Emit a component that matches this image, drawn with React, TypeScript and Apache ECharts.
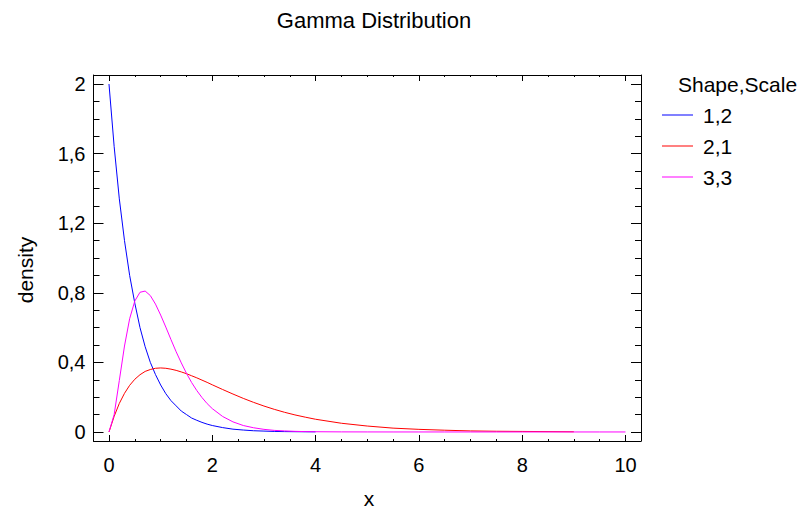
import React, { useEffect, useRef } from "react";
import * as echarts from "echarts";

const FONT = "'Liberation Sans', Arial, Helvetica, sans-serif";

const chartTitle = "Gamma Distribution";
const legendTitle = "Shape,Scale";
const seriesNames = ["1,2", "2,1", "3,3"];
const seriesColors = ["#0000ff", "#ff0000", "#ff00ff"];

// x positions at which the curves were read
const xs = [
  0, 0.1, 0.2, 0.3, 0.4, 0.5, 0.6, 0.7, 0.8, 0.9, 1.0, 1.1, 1.2, 1.3, 1.4, 1.5, 1.6, 1.7, 1.8, 1.9, 2.0,
  2.2, 2.4, 2.6, 2.8, 3.0, 3.2, 3.4, 3.6, 3.8, 4.0,
  4.5, 5, 5.5, 6, 6.5, 7, 7.5, 8, 8.5, 9, 9.5, 10,
];

const blueDensity = [
  2.0, 1.64, 1.34, 1.1, 0.9, 0.74, 0.6, 0.49, 0.4, 0.33, 0.27, 0.22, 0.18, 0.15, 0.12, 0.1, 0.08, 0.067, 0.055, 0.045, 0.037,
  0.025, 0.016, 0.011, 0.007, 0.005, 0.003, 0.002, 0.0015, 0.001, 0.0007,
];

const redDensity = [
  0, 0.09, 0.164, 0.222, 0.268, 0.303, 0.329, 0.348, 0.359, 0.366, 0.368, 0.366, 0.361, 0.354, 0.345, 0.335, 0.323, 0.311, 0.298, 0.285, 0.271,
  0.244, 0.218, 0.193, 0.17, 0.149, 0.13, 0.113, 0.098, 0.085, 0.073,
  0.05, 0.034, 0.022, 0.015, 0.01, 0.006, 0.004, 0.003, 0.002, 0.001,
];

const magentaDensity = [
  0, 0.1, 0.296, 0.494, 0.651, 0.753, 0.803, 0.81, 0.784, 0.735, 0.672, 0.603, 0.531, 0.461, 0.397, 0.337, 0.284, 0.238, 0.198, 0.163, 0.134,
  0.089, 0.058, 0.037, 0.024, 0.015, 0.009, 0.006, 0.0035, 0.002, 0.0013,
  0.0004, 0.0001, 0, 0, 0, 0, 0, 0, 0, 0, 0, 0,
];

const densities = [blueDensity, redDensity, magentaDensity];

const xMajorTicks = [0, 2, 4, 6, 8, 10];
const xMinorTicks = [0, 0.5, 1, 1.5, 2, 2.5, 3, 3.5, 4, 4.5, 5, 5.5, 6, 6.5, 7, 7.5, 8, 8.5, 9, 9.5, 10];
const yMajorTicks = [0, 0.4, 0.8, 1.2, 1.6, 2];
const yMinorTicks = [0, 0.1, 0.2, 0.3, 0.4, 0.5, 0.6, 0.7, 0.8, 0.9, 1.0, 1.1, 1.2, 1.3, 1.4, 1.5, 1.6, 1.7, 1.8, 1.9, 2.0];

const X_MIN = -0.3;
const X_MAX = 10.3;
const Y_MIN = -0.052;
const Y_MAX = 2.052;

function fmt(v: number): string {
  return String(Number(v.toFixed(1))).replace(".", ",");
}

export default function App() {
  const ref = useRef<HTMLDivElement>(null);

  useEffect(() => {
    if (!ref.current) return;
    const chart = echarts.init(ref.current, null, { renderer: "svg" });

    const xAxisBase = (position: string, ticks: number[], len: number, labels: boolean, line: boolean) => ({
      type: "value",
      position,
      min: X_MIN,
      max: X_MAX,
      axisLine: { show: line, onZero: false, lineStyle: { color: "#000", width: 1 } },
      axisTick: { show: true, inside: true, length: len, customValues: ticks, lineStyle: { color: "#000", width: 1 } },
      axisLabel: labels
        ? { show: true, customValues: xMajorTicks, margin: 14, color: "#000", fontSize: 20, fontFamily: FONT, formatter: (v: number) => fmt(v) }
        : { show: false },
      splitLine: { show: false },
    });

    const yAxisBase = (position: string, ticks: number[], len: number, labels: boolean, line: boolean) => ({
      type: "value",
      position,
      min: Y_MIN,
      max: Y_MAX,
      axisLine: { show: line, onZero: false, lineStyle: { color: "#000", width: 1 } },
      axisTick: { show: true, inside: true, length: len, customValues: ticks, lineStyle: { color: "#000", width: 1 } },
      axisLabel: labels
        ? { show: true, customValues: yMajorTicks, margin: 8, color: "#000", fontSize: 20, fontFamily: FONT, formatter: (v: number) => fmt(v) }
        : { show: false },
      splitLine: { show: false },
    });

    chart.setOption({
      animation: false,
      backgroundColor: "#fff",
      title: {
        text: chartTitle,
        left: 369,
        top: 4,
        textAlign: "center",
        textStyle: { fontSize: 22, fontWeight: "normal", color: "#000", fontFamily: FONT },
      },
      grid: { left: 93.5, right: 165, top: 75, bottom: 72, show: false },
      xAxis: [
        xAxisBase("bottom", xMajorTicks, 6, true, true),
        xAxisBase("bottom", xMinorTicks, 2, false, false),
        xAxisBase("top", xMajorTicks, 6, false, true),
        xAxisBase("top", xMinorTicks, 2, false, false),
      ],
      yAxis: [
        yAxisBase("left", yMajorTicks, 10, true, true),
        yAxisBase("left", yMinorTicks, 6, false, false),
        yAxisBase("right", yMajorTicks, 10, false, true),
        yAxisBase("right", yMinorTicks, 6, false, false),
      ],
      legend: {
        data: seriesNames.map((name) => ({ name, icon: "rect" })),
        orient: "vertical",
        left: 662,
        top: 104.5,
        padding: 0,
        itemWidth: 31,
        itemHeight: 1,
        itemGap: 10,
        textStyle: { fontSize: 21, color: "#000", fontFamily: FONT, padding: [0, 0, 0, 5] },
      },
      graphic: [
        {
          type: "text",
          left: 678,
          top: 74,
          style: { text: legendTitle, fontSize: 21, fill: "#000", fontFamily: FONT },
        },
        {
          type: "text",
          x: 25,
          y: 270,
          rotation: Math.PI / 2,
          style: { text: "density", fontSize: 21, fill: "#000", fontFamily: FONT, align: "center", verticalAlign: "middle" },
        },
        {
          type: "text",
          x: 369,
          y: 498,
          style: { text: "x", fontSize: 21, fill: "#000", fontFamily: FONT, align: "center", verticalAlign: "middle" },
        },
      ],
      series: seriesNames.map((name, i) => ({
        name,
        type: "line",
        xAxisIndex: 0,
        yAxisIndex: 0,
        symbol: "none",
        showSymbol: false,
        color: seriesColors[i],
        lineStyle: { color: seriesColors[i], width: 1 },
        data: densities[i].map((d, j) => [xs[j], d]),
      })),
    });

    return () => chart.dispose();
  }, []);

  return (
    <div
      ref={ref}
      style={{ position: "fixed", left: 0, top: 0, width: 806, height: 513, background: "#fff" }}
    />
  );
}
